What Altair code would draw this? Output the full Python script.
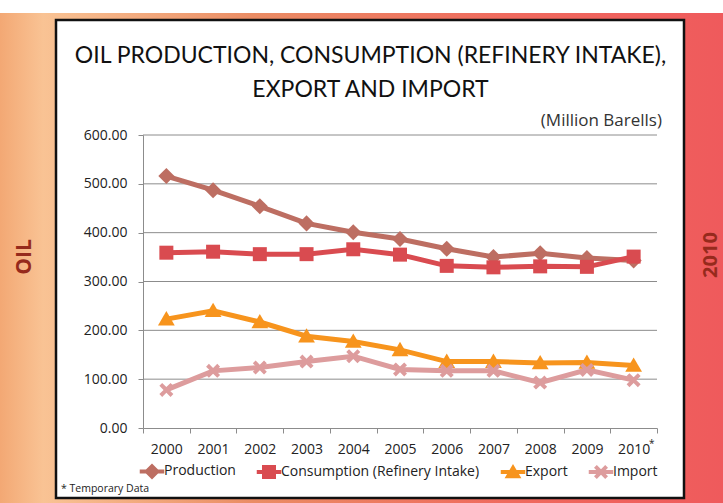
import altair as alt
import pandas as pd

# ---------------- data ----------------
years = ["2000", "2001", "2002", "2003", "2004", "2005", "2006", "2007", "2008", "2009", "2010"]
production = [516, 487, 454, 419, 401, 387, 367, 350, 358, 348, 343]
consumption = [359, 361, 356, 356, 366, 355, 332, 329, 331, 330, 351]
export = [223, 240, 217, 188, 177, 160, 136, 136, 133, 134, 128]
imports = [78, 117, 124, 136, 147, 120, 117, 117, 93, 119, 98]
series_names = ["Production", "Consumption (Refinery Intake)", "Export", "Import"]
series_colors = ["#bd6e62", "#d94b50", "#f7941d", "#dd9c9d"]
y_ticks = [0, 100, 200, 300, 400, 500, 600]
grid_values = [100, 200, 300, 400, 500, 600]

rows = []
for name, vals in zip(series_names, [production, consumption, export, imports]):
    for yr, v in zip(years, vals):
        rows.append({"year": yr, "value": v, "series": name})
df = pd.DataFrame(rows)
grid_df = pd.DataFrame({"value": grid_values})

# ---------------- style ----------------
W, H = 514, 293
PL, PT = 143, 135
FONT = "Open Sans"

marker_paths = [
    "M0,-1.15L1.15,0L0,1.15L-1.15,0Z",
    "M-1,-1L1,-1L1,1L-1,1Z",
    "M0,-1.15L1.2,0.9L-1.2,0.9Z",
    "M-0.6,-1L0,-0.4L0.6,-1L1,-0.6L0.4,0L1,0.6L0.6,1L0,0.4L-0.6,1L-1,0.6L-0.4,0L-1,-0.6Z",
]
bar = "M-1.75,-0.3L1.75,-0.3L1.75,0.3L-1.75,0.3Z "
legend_paths = [bar + p for p in marker_paths]

x_enc = alt.X(
    "year:O",
    sort=years,
    scale=alt.Scale(domain=years, paddingInner=0, paddingOuter=0),
    axis=alt.Axis(
        title=None, labelAngle=0, labelFont=FONT, labelFontSize=14, labelColor="#222222",
        tickBand="extent", tickSize=5, tickColor="#8c8c8c", domainColor="#8c8c8c",
        labelPadding=9, grid=False, zindex=1,
    ),
)
y_enc = alt.Y(
    "value:Q",
    scale=alt.Scale(domain=[0, 600], nice=False, zero=True),
    axis=alt.Axis(
        title=None, values=y_ticks, format=".2f", labelFont=FONT, labelFontSize=14,
        labelColor="#222222", tickSize=5, tickColor="#8c8c8c", domainColor="#8c8c8c",
        labelPadding=11, grid=False, zindex=1,
    ),
)

one = alt.Data(values=[{}])

# ---------------- decorations ----------------
bg = alt.Chart(one).mark_rect(
    color=alt.Gradient(
        gradient="linear", x1=0, x2=1, y1=0, y2=0,
        stops=[
            alt.GradientStop(color="#f3a874", offset=0),
            alt.GradientStop(color="#f9c394", offset=0.06),
            alt.GradientStop(color="#ea8c64", offset=0.35),
            alt.GradientStop(color="#ef6a5e", offset=0.7),
            alt.GradientStop(color="#ef5a5c", offset=1),
        ],
    )
).encode(x=alt.value(-PL), x2=alt.value(723 - PL), y=alt.value(13 - PT), y2=alt.value(503 - PT))

box = alt.Chart(one).mark_rect(fill="white", stroke="#111111", strokeWidth=2.5).encode(
    x=alt.value(56 - PL), x2=alt.value(684 - PL), y=alt.value(20 - PT), y2=alt.value(498 - PT)
)

def text_layer(txt, x, y, size, font=FONT, align="center", baseline="alphabetic",
               color="#111111", weight="normal", angle=0):
    return alt.Chart(one).mark_text(
        text=txt, font=font, fontSize=size, align=align, baseline=baseline,
        color=color, fontWeight=weight, angle=angle,
    ).encode(x=alt.value(x - PL), y=alt.value(y - PT))

title1 = text_layer("OIL PRODUCTION, CONSUMPTION (REFINERY INTAKE),", 370.5, 63, 23, font="Lato")
title2 = text_layer("EXPORT AND IMPORT", 370.5, 97, 23, font="Lato")
unit = text_layer("(Million Barells)", 662, 126, 17, align="right", color="#333333")
note = text_layer("* Temporary Data", 61, 489, 10.5, align="left", baseline="middle", color="#222222")
oil = text_layer("OIL", 25, 257, 21, baseline="middle", color="#962a1c", weight="bold", angle=270)
yr = text_layer("2010", 711, 255, 20, baseline="middle", color="#962a1c", weight="bold", angle=270)

# ---------------- chart layers ----------------
grid = alt.Chart(grid_df).mark_rule(color="#8c8c8c", strokeWidth=1).encode(
    y=y_enc, x=alt.value(0), x2=alt.value(W)
)

line_layers = []
point_layers = []
for name, path, col in zip(series_names, marker_paths, series_colors):
    base = alt.Chart(df).transform_filter(alt.datum.series == name)
    line_layers.append(base.mark_line(strokeWidth=5, color=col).encode(x=x_enc, y=y_enc))
    point_layers.append(
        base.mark_point(shape=path, filled=True, size=196, opacity=1, color=col).encode(x=x_enc, y=y_enc)
    )

legend_kw = dict(
    orient="none", legendX=2, legendY=329, direction="horizontal", title=None,
    labelFont=FONT, labelFontSize=14, labelColor="#222222", labelLimit=0, symbolSize=196,
    symbolStrokeWidth=0, symbolOpacity=1, labelOffset=5, columnPadding=20,
)
legend_layer = alt.Chart(df).transform_filter("false").mark_point(filled=True, size=196).encode(
    shape=alt.Shape("series:N", scale=alt.Scale(domain=series_names, range=legend_paths),
                    legend=alt.Legend(**legend_kw)),
    fill=alt.Fill("series:N", scale=alt.Scale(domain=series_names, range=series_colors),
                  legend=alt.Legend(**legend_kw)),
)

star_df = pd.DataFrame({"year": ["2010"]})
star = alt.Chart(star_df).mark_text(text="*", fontSize=10, dx=18, font=FONT, color="#222222").encode(
    x=x_enc, y=alt.value(H + 16)
)

chart = alt.layer(
    bg, box, title1, title2, unit, note, oil, yr,
    grid, *line_layers, *point_layers, legend_layer, star,
).properties(
    width=W, height=H,
    autosize=alt.AutoSizeParams(type="none"),
    padding={"left": PL, "top": PT, "right": 723 - PL - W, "bottom": 503 - PT - H},
    background="white",
).configure_view(stroke=None)

chart.save("out.html", embed_options={"renderer": "svg", "actions": False})
